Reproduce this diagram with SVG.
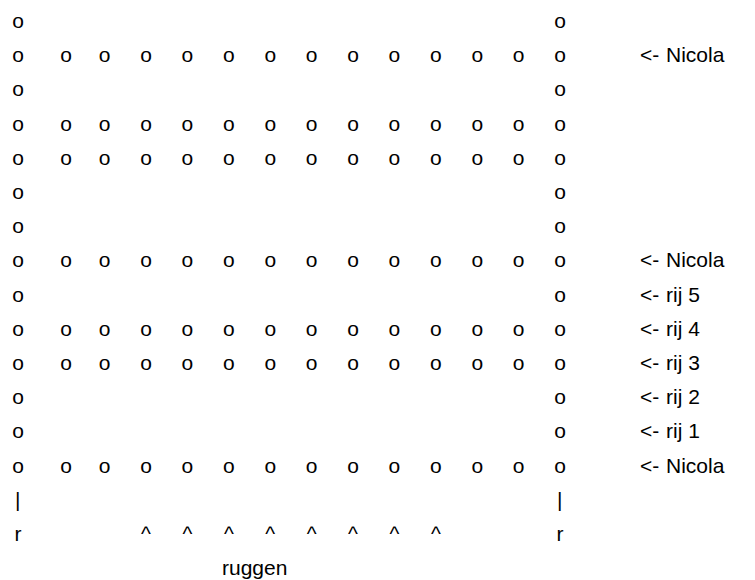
<svg xmlns="http://www.w3.org/2000/svg" width="755" height="580" viewBox="0 0 755 580">
<style>
.t{font-family:"Liberation Sans",Arial,sans-serif;font-size:21px;fill:#000}
</style>
<rect width="755" height="580" fill="#fff"/>
<g id="grid">
<text id="r0" class="t" x="12.2 554.2" y="28">oo</text>
<text id="r1" class="t" x="12.2 60.2 98.8 140.2 181.6 223 264.4 305.8 347.2 388.6 430 471.4 512.8 554.2" y="62.2">oooooooooooooo</text>
<text id="r2" class="t" x="12.2 554.2" y="96.4">oo</text>
<text id="r3" class="t" x="12.2 60.2 98.8 140.2 181.6 223 264.4 305.8 347.2 388.6 430 471.4 512.8 554.2" y="130.6">oooooooooooooo</text>
<text id="r4" class="t" x="12.2 60.2 98.8 140.2 181.6 223 264.4 305.8 347.2 388.6 430 471.4 512.8 554.2" y="164.8">oooooooooooooo</text>
<text id="r5" class="t" x="12.2 554.2" y="199">oo</text>
<text id="r6" class="t" x="12.2 554.2" y="233.2">oo</text>
<text id="r7" class="t" x="12.2 60.2 98.8 140.2 181.6 223 264.4 305.8 347.2 388.6 430 471.4 512.8 554.2" y="267.4">oooooooooooooo</text>
<text id="r8" class="t" x="12.2 554.2" y="301.6">oo</text>
<text id="r9" class="t" x="12.2 60.2 98.8 140.2 181.6 223 264.4 305.8 347.2 388.6 430 471.4 512.8 554.2" y="335.8">oooooooooooooo</text>
<text id="r10" class="t" x="12.2 60.2 98.8 140.2 181.6 223 264.4 305.8 347.2 388.6 430 471.4 512.8 554.2" y="370">oooooooooooooo</text>
<text id="r11" class="t" x="12.2 554.2" y="404.2">oo</text>
<text id="r12" class="t" x="12.2 554.2" y="438.4">oo</text>
<text id="r13" class="t" x="12.2 60.2 98.8 140.2 181.6 223 264.4 305.8 347.2 388.6 430 471.4 512.8 554.2" y="472.6">oooooooooooooo</text>
<text id="r14" class="t" x="15.1 557.1" y="506.8">||</text>
<text id="r15" class="t" x="14.5 141.1 182.5 223.9 265.3 306.7 348.1 389.5 430.9 556.5" y="541">r^^^^^^^^r</text>
<text id="r16" class="t" x="222" y="575.2">ruggen</text>
</g>
<g id="labels">
<g id="l1"><text class="t" x="640" y="62.2">&lt;-</text><text class="t" x="666" y="62.2">Nicola</text></g>
<g id="l7"><text class="t" x="640" y="267.4">&lt;-</text><text class="t" x="666" y="267.4">Nicola</text></g>
<g id="l8"><text class="t" x="640" y="301.6">&lt;-</text><text class="t" x="666" y="301.6">rij 5</text></g>
<g id="l9"><text class="t" x="640" y="335.8">&lt;-</text><text class="t" x="666" y="335.8">rij 4</text></g>
<g id="l10"><text class="t" x="640" y="370">&lt;-</text><text class="t" x="666" y="370">rij 3</text></g>
<g id="l11"><text class="t" x="640" y="404.2">&lt;-</text><text class="t" x="666" y="404.2">rij 2</text></g>
<g id="l12"><text class="t" x="640" y="438.4">&lt;-</text><text class="t" x="666" y="438.4">rij 1</text></g>
<g id="l13"><text class="t" x="640" y="472.6">&lt;-</text><text class="t" x="666" y="472.6">Nicola</text></g>
</g>
</svg>
